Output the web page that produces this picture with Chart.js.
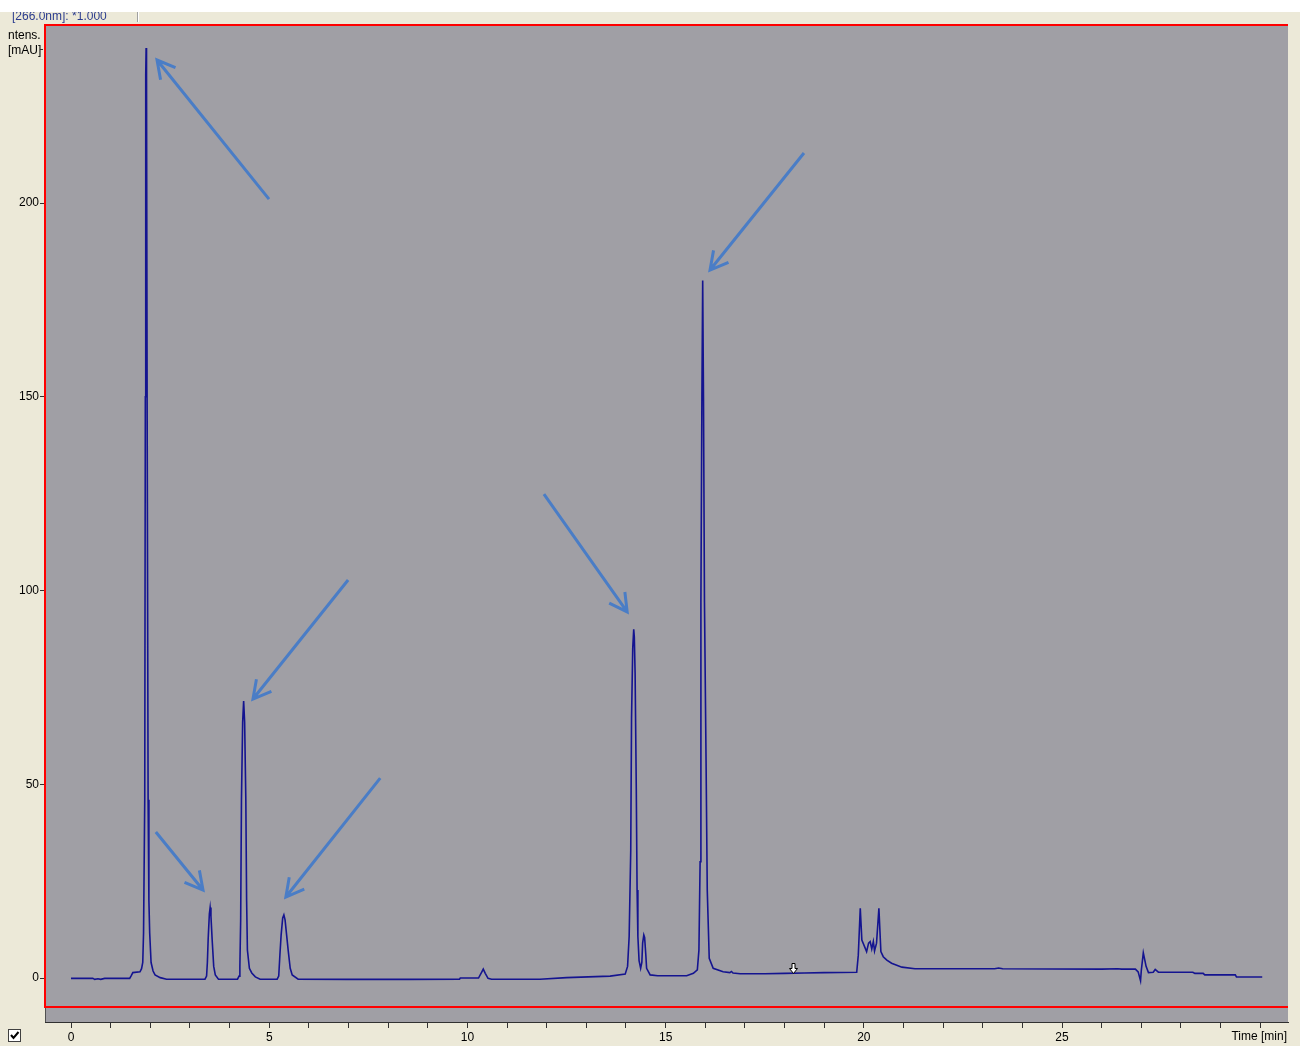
<!DOCTYPE html>
<html><head><meta charset="utf-8">
<script src="https://cdn.jsdelivr.net/npm/chart.js@4.4.0/dist/chart.umd.min.js"></script>
<style>html,body{margin:0;padding:0;background:#ECE9D8;overflow:hidden}canvas{display:block}</style>
</head><body>
<canvas id="c" width="1300" height="1046"></canvas>
<script>
// ---- data ----
const timeMin = [
0.00,0.55,0.60,0.68,0.75,0.85,1.48,1.52,1.56,1.74,1.78,1.81,1.83,1.86,1.875,1.885,1.895,1.905,1.92,1.945,1.965,1.985,2.02,2.07,2.12,2.25,2.41,
3.38,3.42,3.44,3.46,3.49,3.51,3.53,3.56,3.60,3.64,3.72,
4.20,4.24,4.26,4.28,4.30,4.33,4.355,4.38,4.41,4.43,4.45,4.50,4.56,4.65,4.77,
5.20,5.24,5.27,5.30,5.34,5.37,5.40,5.44,5.48,5.53,5.58,5.73,
7.00,8.50,9.80,9.82,10.28,10.36,10.40,10.45,10.52,10.61,11.83,12.50,13.60,13.98,14.04,
14.08,14.12,14.14,14.17,14.195,14.21,14.23,14.26,14.28,14.30,14.33,14.37,14.40,14.42,14.45,14.47,14.50,14.52,14.61,14.80,15.53,15.70,15.80,
15.84,15.87,15.89,15.915,15.935,15.955,15.98,16.02,16.05,16.10,16.20,16.45,16.62,16.66,16.70,16.88,17.50,18.00,18.50,19.00,19.82,
19.86,19.91,19.95,20.07,20.12,20.16,20.20,20.24,20.27,20.32,20.38,20.43,20.49,20.58,20.70,20.96,21.29,23.30,23.40,23.50,26.00,26.40,26.50,26.85,
26.92,26.98,27.00,27.05,27.12,27.18,27.30,27.35,27.43,28.30,28.35,28.56,28.60,29.37,29.40,30.05];
const intensity = [
-0.1,-0.1,-0.35,-0.2,-0.35,-0.1,-0.1,0.6,1.4,1.6,2.4,4.0,11.6,46,150,233,240,233,150,46,20,11.6,4.0,1.8,0.8,0.1,-0.3,
-0.3,0.5,4,10,16.5,18.2,16,10,3,0.8,-0.3,
-0.3,0.5,3,15,46,66,71.5,66,46,20,7.2,2.5,1.3,0.3,-0.3,
-0.3,0.5,6,11,15.5,16.3,15,11,7,2.5,0.8,-0.3,
-0.35,-0.35,-0.3,0.0,0.0,1.5,2.3,1.2,-0.1,-0.3,-0.3,0.1,0.5,1.0,3.0,
10.7,33,67,85,90,88,78.7,48.5,22.7,10.7,4.5,2.5,4,9,11.1,10.5,6,2.5,0.8,0.6,0.6,1.2,2.1,
7.2,30,97,150,180,150,97,56,22.7,5.1,2.5,1.6,1.4,1.7,1.3,1.1,1.1,1.2,1.3,1.4,1.5,
5.9,18.0,9.8,6.8,9.0,9.4,7.5,9.4,7.0,9.0,18.0,6.8,5.5,4.6,3.8,2.8,2.4,2.4,2.6,2.4,2.3,2.4,2.3,2.3,
1.6,-0.7,2.0,6.5,3.0,1.4,1.5,2.2,1.5,1.5,1.2,1.2,0.8,0.8,0.26,0.26];

const xTickValues = [0,1,2,3,4,5,6,7,8,9,10,11,12,13,14,15,16,17,18,19,20,21,22,23,24,25,26,27,28,29,30];
const xLabelValues = [0,5,10,15,20,25];
const yTickValues = [0,50,100,150,200];
const xRange = [-0.656, 30.70];
const yRange = [-11.35, 245.94];
const referenceLine = -7.5;

// annotation arrows in data units: [time, mAU]
const arrowTails = [[4.995,201.0],[18.49,212.9],[6.99,102.7],[11.93,124.9],[2.14,37.7],[7.80,51.6]];
const arrowHeads = [[2.170,236.9],[16.12,182.7],[4.59,72.0],[14.03,94.5],[3.33,22.7],[5.42,20.9]];
const eventMarkers = [[18.21,1.3]];

const yAxisTitle = ['ntens.','[mAU]'];
const xAxisTitle = 'Time [min]';
const headerText = '[266.0nm]: *1.000';

// ---- styling ----
const FONT = "'Liberation Sans',Arial,sans-serif";
const BEIGE = '#ECE9D8', PLOTGRAY = '#A09FA5', LINE = '#141490', ARROW = '#4A7DC6';

const bgPlugin = {
  id:'bg',
  beforeDraw(chart){
    const c = chart.ctx, a = chart.chartArea, W = chart.width, H = chart.height;
    c.save();
    c.fillStyle = BEIGE; c.fillRect(0,0,W,H);
    c.fillStyle = PLOTGRAY; c.fillRect(a.left, a.top, a.right-a.left, a.bottom-a.top);
    c.font = '12px ' + FONT; c.fillStyle = '#2B3C8F'; c.textBaseline = 'alphabetic'; c.textAlign='left';
    c.fillText(headerText, 12, 20);
    c.fillStyle = '#FFFFFF'; c.fillRect(0,0,W,12);
    c.fillStyle = '#A0A0A0'; c.fillRect(137,12,1,10);
    c.fillStyle = '#FFFFFF'; c.fillRect(138,12,1,10);
    c.restore();
  }
};

function drawArrow(c, x1, y1, x2, y2){
  const ang = Math.atan2(y1-y2, x1-x2), L = 20, sp = 0.5;
  c.beginPath();
  c.moveTo(x1,y1); c.lineTo(x2,y2);
  c.moveTo(x2 + L*Math.cos(ang-sp), y2 + L*Math.sin(ang-sp));
  c.lineTo(x2,y2);
  c.lineTo(x2 + L*Math.cos(ang+sp), y2 + L*Math.sin(ang+sp));
  c.stroke();
}

const overlayPlugin = {
  id:'overlay',
  afterDraw(chart){
    const c = chart.ctx, a = chart.chartArea, xs = chart.scales.x, ys = chart.scales.y;
    c.save();
    const yRef = Math.round(ys.getPixelForValue(referenceLine));
    const L = Math.round(a.left), T = Math.round(a.top), R = Math.round(a.right), B = Math.round(a.bottom);
    // red frame (2px)
    c.fillStyle = '#FF0000';
    c.fillRect(L-1, T-1, R-L+1, 2);
    c.fillRect(L-1, T-1, 2, yRef-T+2);
    c.fillRect(L-1, yRef-1, R-L+1, 2);
    c.fillStyle = '#505050';
    c.fillRect(L, yRef+1, 1, B-yRef-1);
    // arrows
    c.strokeStyle = ARROW; c.lineWidth = 3; c.lineJoin = 'miter'; c.lineCap = 'butt';
    for (let i=0;i<arrowTails.length;i++){
      drawArrow(c, xs.getPixelForValue(arrowTails[i][0]), ys.getPixelForValue(arrowTails[i][1]),
                   xs.getPixelForValue(arrowHeads[i][0]), ys.getPixelForValue(arrowHeads[i][1]));
    }
    // event markers (small white down arrow)
    c.lineWidth = 1; c.strokeStyle = '#000'; c.fillStyle = '#FFF'; c.lineJoin='miter';
    eventMarkers.forEach(m=>{
      const px = Math.round(xs.getPixelForValue(m[0])) + 0.5, py = Math.round(ys.getPixelForValue(m[1])) + 0.5;
      c.beginPath();
      c.moveTo(px-1.5, py-10); c.lineTo(px+1.5, py-10); c.lineTo(px+1.5, py-5);
      c.lineTo(px+4, py-5); c.lineTo(px, py); c.lineTo(px-4, py-5); c.lineTo(px-1.5, py-5);
      c.closePath(); c.fill(); c.stroke();
    });
    // axis titles
    c.fillStyle = '#000'; c.font = '12px ' + FONT; c.textBaseline = 'alphabetic';
    c.textAlign = 'left';
    c.fillText(yAxisTitle[0], 8, 39);
    c.fillText(yAxisTitle[1], 8, 54);
    c.fillStyle = '#303030';
    c.fillRect(40, 49, 3, 1);
    c.fillStyle = '#000';
    c.textAlign = 'right';
    c.fillText(xAxisTitle, 1287, 1040);
    // checkbox
    c.fillStyle = '#FFF'; c.fillRect(8.5, 1029.5, 12, 12);
    c.strokeStyle = '#404040'; c.strokeRect(8.5, 1029.5, 12, 12);
    c.strokeStyle = '#000'; c.lineWidth = 2;
    c.beginPath(); c.moveTo(11, 1035); c.lineTo(13.5, 1038); c.lineTo(18.5, 1032); c.stroke();
    c.restore();
  }
};

const points = timeMin.map((t,i)=>({x:t, y:intensity[i]}));

new Chart(document.getElementById('c'), {
  type:'line',
  data:{datasets:[{data:points, borderColor:LINE, borderWidth:1.6, pointRadius:0, tension:0, fill:false}]},
  options:{
    responsive:false, animation:false, devicePixelRatio:1,
    layout:{padding:{left:0, top:25, right:12, bottom:0}},
    plugins:{legend:{display:false}, tooltip:{enabled:false}},
    scales:{
      x:{
        type:'linear', min:xRange[0], max:xRange[1],
        afterBuildTicks:s=>{ s.ticks = xTickValues.map(v=>({value:v})); },
        afterFit:s=>{ s.height = 24; },
        grid:{drawOnChartArea:false, drawTicks:true, tickLength:6, color:'#303030'},
        border:{display:true, color:'#303030'},
        ticks:{autoSkip:false, maxRotation:0, minRotation:0, padding:2, color:'#000',
               font:{family:FONT, size:12},
               callback:v=> xLabelValues.includes(v) ? String(v) : ''}
      },
      y:{
        type:'linear', min:yRange[0], max:yRange[1],
        afterBuildTicks:s=>{ s.ticks = yTickValues.map(v=>({value:v})); },
        afterFit:s=>{ s.width = 45; },
        grid:{drawOnChartArea:false, drawTicks:true, tickLength:5, color:'#303030'},
        border:{display:false},
        ticks:{padding:1, color:'#000', font:{family:FONT, size:12}}
      }
    }
  },
  plugins:[bgPlugin, overlayPlugin]
});
</script>
</body></html>
